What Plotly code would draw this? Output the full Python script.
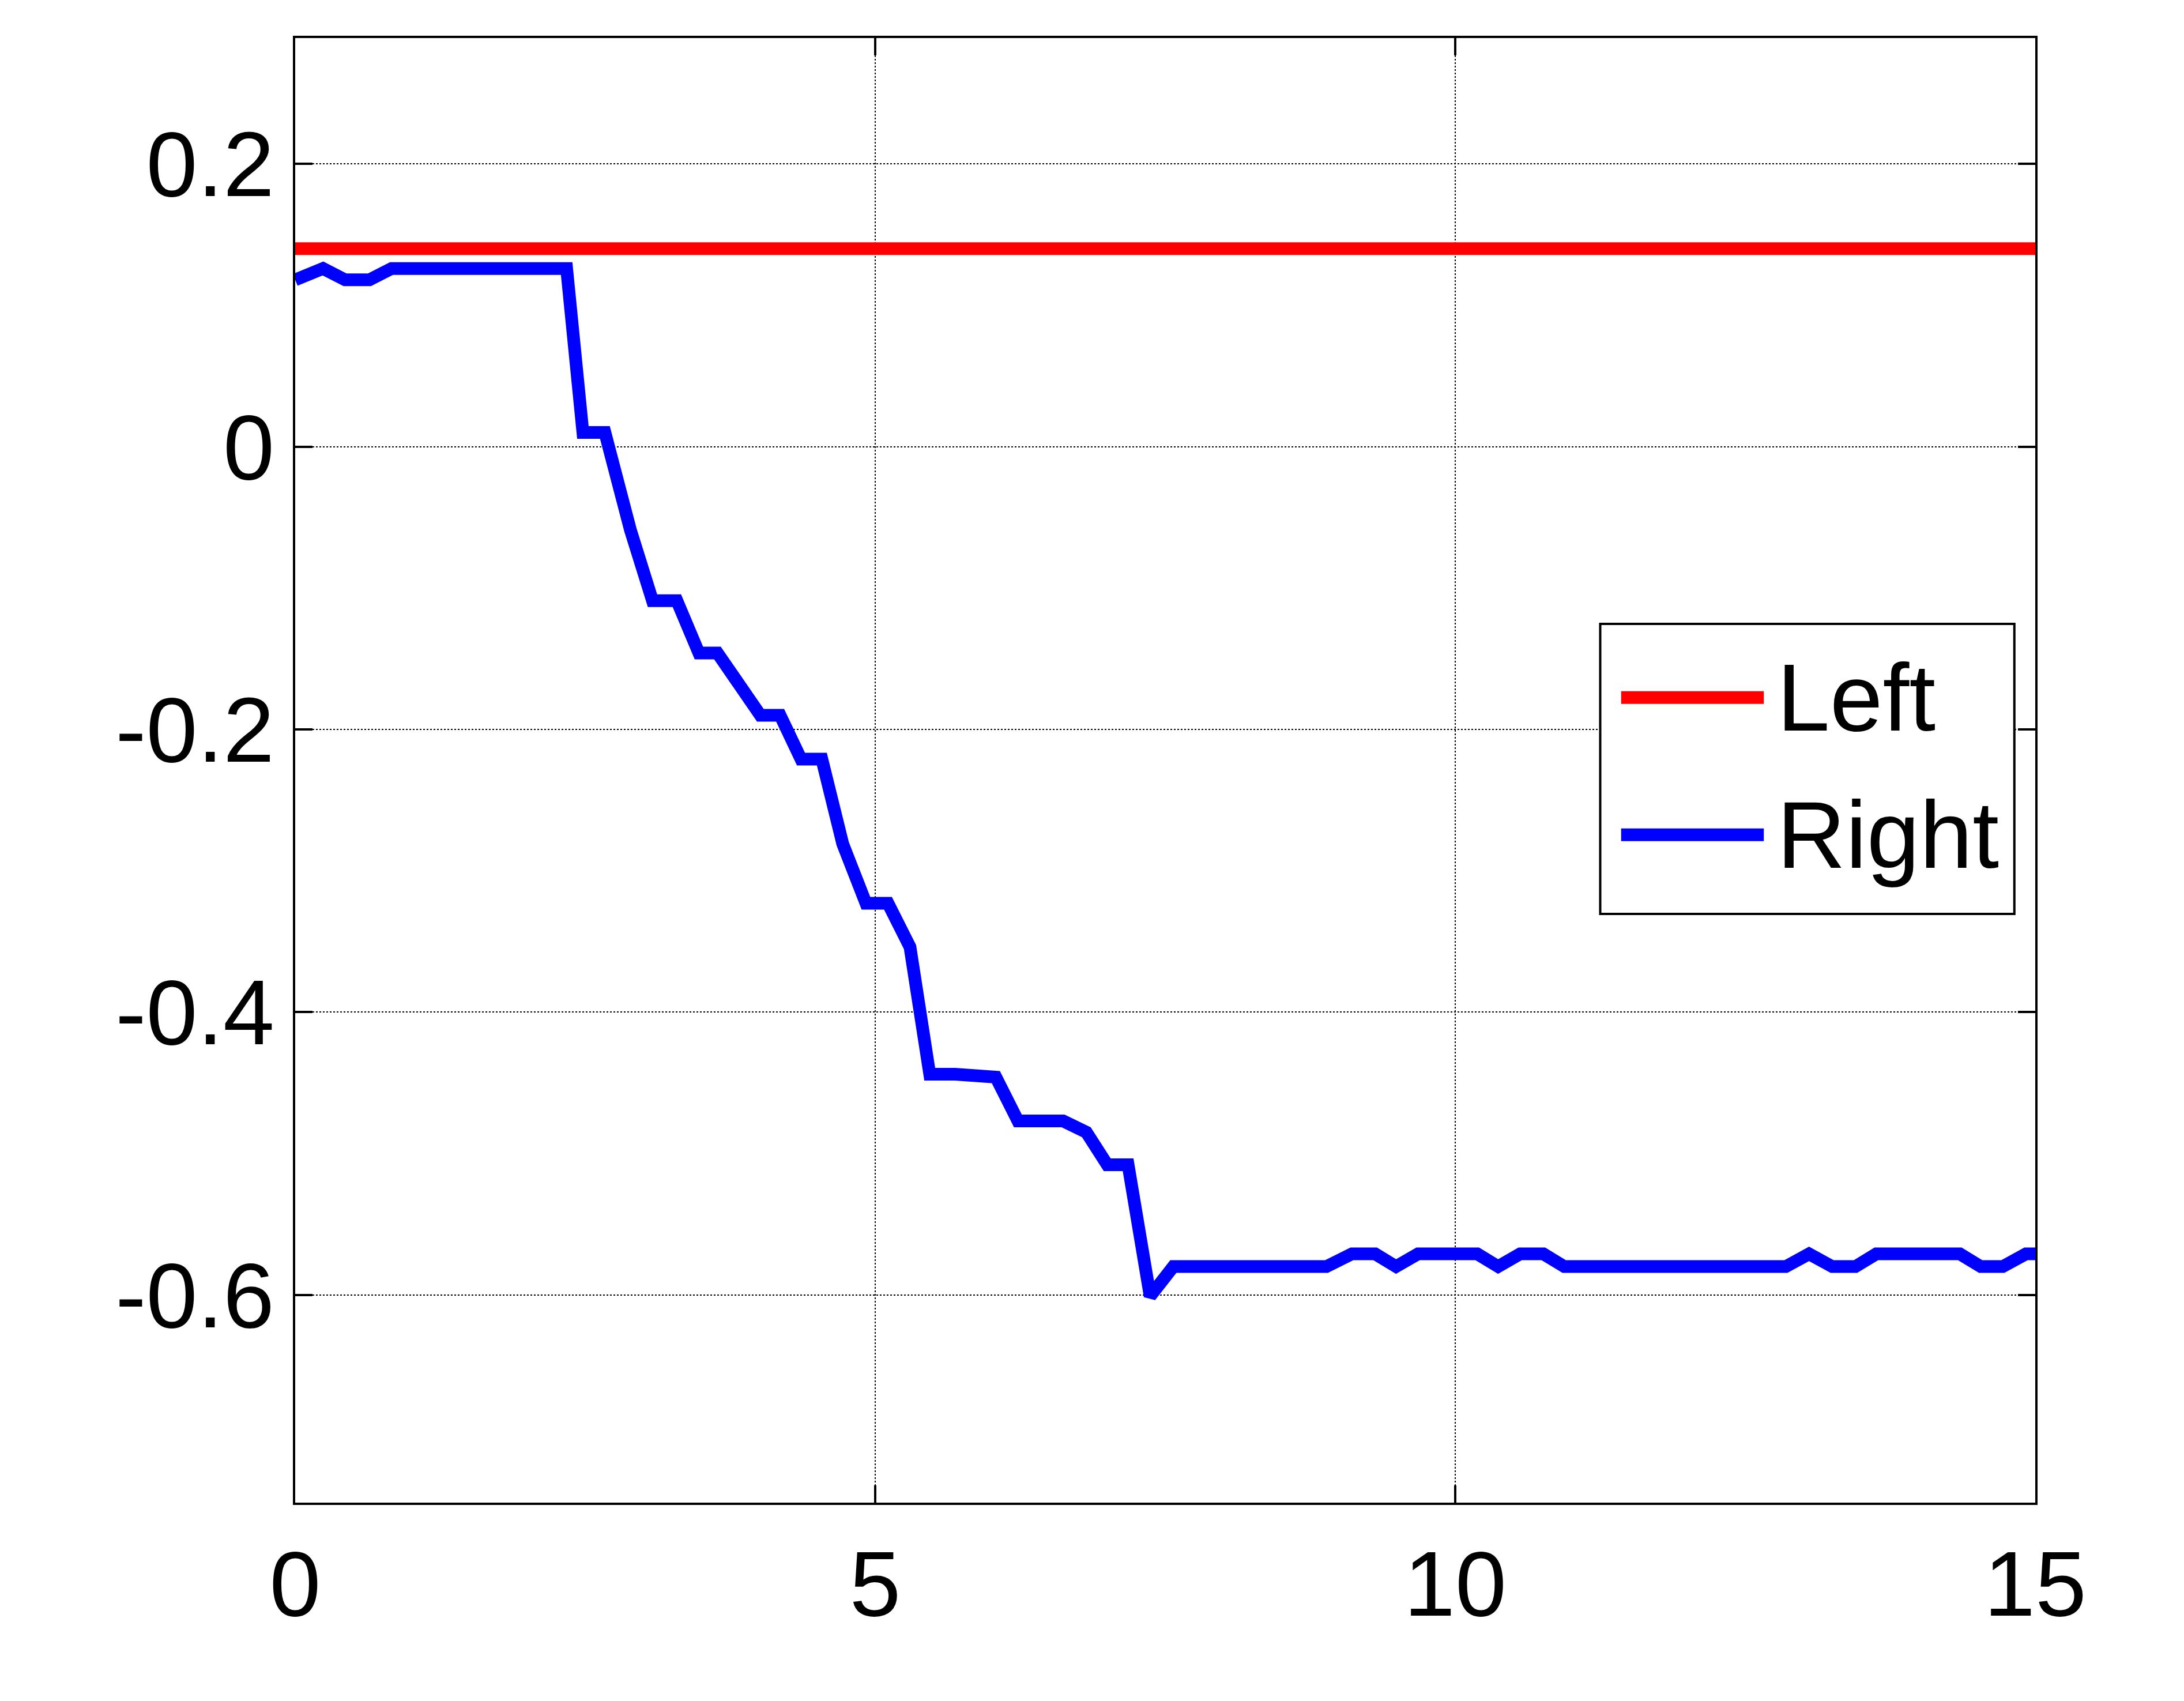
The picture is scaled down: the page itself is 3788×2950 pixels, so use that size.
import plotly.graph_objects as go

x_right = [0,0.24,0.43,0.64,0.83,2.34,2.48,2.67,2.89,3.08,3.29,3.48,3.64,3.83,4.01,4.18,4.36,4.54,4.72,4.92,5.11,5.30,5.47,5.69,5.86,6.04,6.23,6.43,6.62,6.82,7.0,7.18,7.37,7.57,8.89,9.11,9.31,9.49,9.68,10.19,10.37,10.56,10.76,10.94,12.85,13.05,13.25,13.45,13.63,14.35,14.53,14.72,14.92,15]
y_right = [0.118,0.126,0.118,0.118,0.126,0.126,0.01,0.01,-0.059,-0.109,-0.109,-0.146,-0.146,-0.168,-0.19,-0.19,-0.221,-0.221,-0.281,-0.323,-0.323,-0.354,-0.444,-0.444,-0.446,-0.446,-0.477,-0.477,-0.477,-0.485,-0.508,-0.508,-0.601,-0.580,-0.580,-0.571,-0.571,-0.580,-0.571,-0.571,-0.580,-0.571,-0.571,-0.580,-0.580,-0.571,-0.580,-0.580,-0.571,-0.571,-0.580,-0.580,-0.571,-0.571]
x_left = [0, 15]
y_left = [0.14, 0.14]
xticks = [0, 5, 10, 15]
xticklabels = ["0", "5", "10", "15"]
yticks = [-0.6, -0.4, -0.2, 0, 0.2]
yticklabels = ["-0.6", "-0.4", "-0.2", "0", "0.2"]
series_names = ["Left", "Right"]
series_colors = ["#ff0000", "#0000ff"]

FONT = "Liberation Sans, Arial"
fig = go.Figure()
fig.add_trace(go.Scatter(x=x_left, y=y_left, mode="lines", name=series_names[0], line=dict(color=series_colors[0], width=22)))
fig.add_trace(go.Scatter(x=x_right, y=y_right, mode="lines", name=series_names[1], line=dict(color=series_colors[1], width=22)))

axis_common = dict(showline=True, linecolor="black", linewidth=4, mirror="ticks", ticks="inside",
                   ticklen=30, tickwidth=4, tickcolor="black", showgrid=True, gridcolor="black",
                   gridwidth=2, griddash="dot", zeroline=False,
                   tickfont=dict(family=FONT, size=160, color="black"))
fig.update_xaxes(range=[0, 15], tickvals=xticks, ticktext=xticklabels, **axis_common)
fig.update_yaxes(range=[-0.747, 0.289], tickvals=yticks, ticktext=yticklabels, **axis_common)

# manual legend box (long line samples as in the reference)
fig.add_shape(type="rect", xref="paper", yref="paper", x0=0.750, x1=0.988, y0=0.402, y1=0.600,
              line=dict(color="black", width=4), fillcolor="white", layer="above")
legend_y = [0.5497, 0.456]
for name, color, ly in zip(series_names, series_colors, legend_y):
    fig.add_shape(type="line", xref="paper", yref="paper", x0=0.762, x1=0.844, y0=ly, y1=ly,
                  line=dict(color=color, width=22), layer="above")
    fig.add_annotation(xref="paper", yref="paper", x=0.851, y=ly, text=name, showarrow=False,
                       xanchor="left", yanchor="middle", font=dict(family=FONT, size=165, color="black"))

fig.update_layout(width=3788, height=2950, paper_bgcolor="white", plot_bgcolor="white",
                  showlegend=False, margin=dict(l=504, r=266, t=58, b=352))
fig.write_html("out.html")
